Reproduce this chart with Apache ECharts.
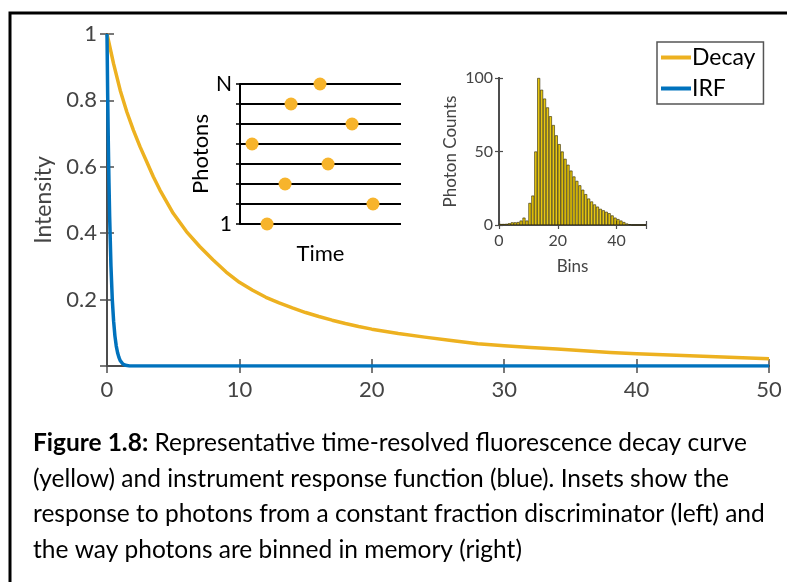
<!DOCTYPE html>
<html><head><meta charset="utf-8">
<script src="https://cdn.jsdelivr.net/npm/echarts@6/dist/echarts.min.js"></script>
<style>html,body{margin:0;padding:0;background:#fff}#c{width:787px;height:582px}</style>
</head><body><div id="c"></div>
<script>
// Main chart data
var decayT = [0,0.5,1,1.5,2,2.5,3,3.5,4,5,6,7,8,9,10,11,12,13,14,15,16,17,18,19,20,22,24,26,28,30,32,34,36,38,40,42,44,46,48,50];
var decayY = [1.0,0.91,0.83,0.765,0.71,0.66,0.615,0.57,0.53,0.46,0.405,0.36,0.32,0.283,0.252,0.228,0.207,0.19,0.175,0.161,0.149,0.138,0.128,0.119,0.111,0.098,0.087,0.077,0.067,0.061,0.056,0.051,0.046,0.041,0.037,0.034,0.031,0.028,0.025,0.022];
var irfT = [0,0.05,0.1,0.15,0.2,0.3,0.4,0.5,0.6,0.7,0.8,0.9,1.0,1.2,1.4,1.7,50];
var irfY = [1,0.82,0.67,0.55,0.45,0.3,0.2,0.135,0.09,0.06,0.04,0.026,0.016,0.006,0.002,0,0];
// Left inset: photon index vs arrival time
var photonIdx = [8,7,6,5,4,3,2,1];
var photonTime = [4.97,3.17,6.96,0.75,5.47,2.8,8.26,1.68];
// Right inset: histogram counts per bin (bin 0..49)
var binCounts = [0.7,0.7,0.8,1.2,1.8,1.8,2,3,5,3,15,20,50,100,92,86,80,74,68,61,55,50,45,41,37,33,30,27,24,21,18,16,14,12.5,11,10,9,8,6.5,5,4,3,2,1,0.5,0,0,0,0,0];
var seriesNames = ['Decay','IRF'];
var captionLines = [
  'Representative time-resolved fluorescence decay curve',
  '(yellow) and instrument response function (blue). Insets show the',
  'response to photons from a constant fraction discriminator (left) and',
  'the way photons are binned in memory (right)'
];

function zip(a,b){return a.map(function(v,i){return [v,b[i]];});}
var F = 'Lato';
var axisGray = '#4d4d4d';
var labGray = '#444';

var chart = echarts.init(document.getElementById('c'),null,{renderer:'canvas'});
var frameAxis = {axisLine:{show:true,lineStyle:{color:axisGray,width:2}},axisTick:{show:true,inside:true,length:7,lineStyle:{color:axisGray,width:1.5}},axisLabel:{show:false},splitLine:{show:false}};
function merge(a,b){var o={};for(var k in a)o[k]=a[k];for(var k2 in b)o[k2]=b[k2];return o;}

var option = {
  animation:false,
  backgroundColor:'#fff',
  grid:[
    {left:107,top:34,width:662,height:332},
    {left:240,top:84,width:161,height:140},
    {left:499,top:78,width:147,height:147}
  ],
  legend:{
    data:seriesNames, orient:'vertical', left:657, top:42,
    icon:'rect', itemWidth:30, itemHeight:4, itemGap:8,
    padding:[4,8,4,4], borderColor:'#555', borderWidth:1.5, backgroundColor:'#fff',
    textStyle:{fontFamily:F,fontSize:23,color:'#000',padding:[0,0,0,-4]}
  },
  xAxis:[
    merge(frameAxis,{gridIndex:0,type:'value',min:0,max:50,interval:10,
      axisLabel:{show:true,color:labGray,fontSize:22,fontFamily:F,margin:13}}),
    merge(frameAxis,{gridIndex:0,type:'value',position:'top',min:0,max:50,interval:10}),
    {gridIndex:1,type:'value',min:0,max:10,axisLine:{show:false},axisTick:{show:false},axisLabel:{show:false},splitLine:{show:false},
      name:'Time',nameLocation:'middle',nameGap:19,nameTextStyle:{fontFamily:F,fontSize:22,color:'#000'}},
    merge(frameAxis,{gridIndex:2,type:'value',min:0,max:50,interval:20,
      axisTick:{show:true,inside:true,length:4,lineStyle:{color:axisGray,width:1.2}},
      axisLabel:{show:true,color:labGray,fontSize:16,fontFamily:F,margin:8,formatter:function(v){return v<=40?String(v):'';}},
      name:'Bins',nameLocation:'middle',nameGap:33,nameTextStyle:{fontFamily:F,fontSize:17,color:labGray}}),
    merge(frameAxis,{gridIndex:2,type:'value',position:'top',min:0,max:50,interval:20,
      axisTick:{show:true,inside:true,length:4,lineStyle:{color:axisGray,width:1.2}}})
  ],
  yAxis:[
    merge(frameAxis,{gridIndex:0,type:'value',min:0,max:1,interval:0.2,
      axisLabel:{show:true,color:labGray,fontSize:22,fontFamily:F,margin:10,formatter:function(v){return v===0?'':String(Math.round(v*10)/10);}},
      name:'Intensity',nameLocation:'middle',nameGap:50,nameTextStyle:{fontFamily:F,fontSize:23,color:labGray}}),
    merge(frameAxis,{gridIndex:0,type:'value',position:'right',min:0,max:1,interval:0.2}),
    {gridIndex:1,type:'value',min:1,max:8,interval:1,
      axisLine:{show:true,lineStyle:{color:'#000',width:2}},
      axisTick:{show:true,inside:false,length:4,lineStyle:{color:'#000',width:1.5}},
      axisLabel:{show:true,color:'#000',fontSize:21,fontFamily:F,margin:8,formatter:function(v){return v===1?'1':(v===8?'N':'');}},
      splitLine:{show:true,lineStyle:{color:'#000',width:2}},
      name:'Photons',nameLocation:'middle',nameGap:24,nameTextStyle:{fontFamily:F,fontSize:22,color:'#000'}},
    merge(frameAxis,{gridIndex:2,type:'value',min:0,max:100,interval:50,
      axisTick:{show:true,inside:true,length:4,lineStyle:{color:axisGray,width:1.2}},
      axisLabel:{show:true,color:labGray,fontSize:16,fontFamily:F,margin:6},
      name:'Photon Counts',nameLocation:'middle',nameGap:40,nameTextStyle:{fontFamily:F,fontSize:17,color:labGray}}),
    merge(frameAxis,{gridIndex:2,type:'value',position:'right',min:0,max:100,interval:50,
      axisTick:{show:true,inside:true,length:4,lineStyle:{color:axisGray,width:1.2}}})
  ],
  series:[
    {name:'Decay',type:'line',xAxisIndex:0,yAxisIndex:0,data:zip(decayT,decayY),showSymbol:false,smooth:false,
      lineStyle:{color:'#EDB120',width:3.5,join:'round'},itemStyle:{color:'#EDB120'},z:3},
    {name:'IRF',type:'line',xAxisIndex:0,yAxisIndex:0,data:zip(irfT,irfY),showSymbol:false,smooth:false,
      lineStyle:{color:'#0072BD',width:3.5,join:'round'},itemStyle:{color:'#0072BD'},z:4},
    {type:'scatter',xAxisIndex:2,yAxisIndex:2,data:zip(photonTime,photonIdx),symbolSize:13,
      itemStyle:{color:'#F7B42C',opacity:1},z:5},
    {type:'bar',xAxisIndex:3,yAxisIndex:3,data:zip(binCounts.map(function(_,i){return i+0.5;}),binCounts),
      barWidth:2.94,itemStyle:{color:'#E9C80E',borderColor:'#2a2400',borderWidth:0.6},z:3}
  ],
  graphic:[
    {type:'rect',shape:{x:10,y:13,width:800,height:600},style:{fill:'none',stroke:'#000',lineWidth:3},silent:true},
    {type:'text',left:33,top:431,style:{
      text:'{b|Figure 1.8:} {n|'+captionLines[0]+'}\n{n|'+captionLines[1]+'}\n{n|'+captionLines[2]+'}\n{n|'+captionLines[3]+'}',
      rich:{b:{fontFamily:F,fontSize:24.5,fontWeight:'bold',lineHeight:35.5,fill:'#000'},n:{fontFamily:F,fontSize:24.5,lineHeight:35.5,fill:'#000'}},
      fill:'#000',font:'24.5px Lato'}}
  ]
};
chart.setOption(option);
</script></body></html>
